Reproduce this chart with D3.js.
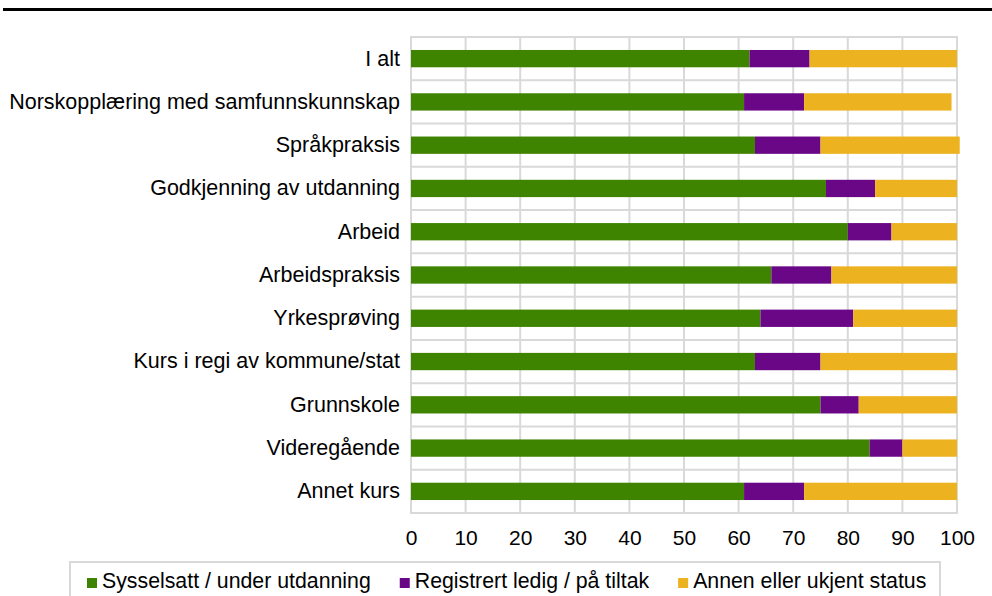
<!DOCTYPE html>
<html>
<head>
<meta charset="utf-8">
<script src="https://cdn.jsdelivr.net/npm/d3@7"></script>
<style>
  body { margin: 0; background: #fff; }
  svg { display: block; font-family: "Liberation Sans", Arial, sans-serif; }
</style>
</head>
<body>
<svg></svg>
<script>
const categories = [
  'I alt',
  'Norskopplæring med samfunnskunnskap',
  'Språkpraksis',
  'Godkjenning av utdanning',
  'Arbeid',
  'Arbeidspraksis',
  'Yrkesprøving',
  'Kurs i regi av kommune/stat',
  'Grunnskole',
  'Videregående',
  'Annet kurs'
];
const sysselsatt = [62, 61, 63, 76, 80, 66, 64, 63, 75, 84, 61];
const ledig      = [11, 11, 12,  9,  8, 11, 17, 12,  7,  6, 11];
const annen      = [27, 27, 25.5, 15, 12, 23, 19, 25, 18, 10, 28];
const seriesNames = ['Sysselsatt / under utdanning', 'Registrert ledig / på tiltak', 'Annen eller ukjent status'];
const seriesColors = ['#3f8400', '#6a0787', '#ecb220'];
const xTicks = [0, 10, 20, 30, 40, 50, 60, 70, 80, 90, 100];

const width = 992, height = 596;
const plot = { left: 411, right: 957, top: 37, bottom: 513 };

const svg = d3.select('svg')
  .attr('width', width)
  .attr('height', height);

// thick rule under the (cut off) heading
svg.append('rect')
  .attr('x', 3).attr('y', 8)
  .attr('width', width - 3).attr('height', 3)
  .attr('fill', '#000');

const rows = categories.map((c, i) => ({
  cat: c,
  vals: [sysselsatt[i], ledig[i], annen[i]]
}));

const xScale = d3.scaleLinear()
  .domain([0, 100])
  .range([plot.left, plot.right]);

const cellScale = d3.scaleBand()
  .domain(categories)
  .range([plot.top, plot.bottom]);

const yScale = d3.scaleBand()
  .domain(categories)
  .range([plot.top, plot.bottom])
  .paddingInner(0.6)
  .paddingOuter(0.3);

const grid = svg.append('g')
  .attr('stroke', '#d9d9d9')
  .attr('stroke-width', 2);

// vertical grid lines
grid.selectAll('line.v')
  .data(xTicks)
  .enter()
  .append('line')
  .attr('x1', d => xScale(d)).attr('x2', d => xScale(d))
  .attr('y1', plot.top).attr('y2', plot.bottom);

// horizontal lines between categories
grid.selectAll('line.h')
  .data(categories.map(c => cellScale(c)).concat([plot.bottom]))
  .enter()
  .append('line')
  .attr('x1', plot.left - 1).attr('x2', plot.right + 1)
  .attr('y1', d => d).attr('y2', d => d);

// stacked bars
const bars = svg.append('g');
rows.forEach(r => {
  let acc = 0;
  r.vals.forEach((v, k) => {
    bars.append('rect')
      .attr('x', xScale(acc))
      .attr('y', yScale(r.cat))
      .attr('width', xScale(acc + v) - xScale(acc))
      .attr('height', yScale.bandwidth())
      .attr('fill', seriesColors[k]);
    acc += v;
  });
});

// category labels
const yAxis = svg.append('g')
  .attr('transform', `translate(${plot.left - 11},0)`)
  .call(d3.axisLeft(yScale).tickSize(0).tickPadding(0));
yAxis.select('.domain').remove();
yAxis.selectAll('text')
  .attr('font-size', 21.5)
  .attr('font-family', '"Liberation Sans", Arial, sans-serif')
  .attr('fill', '#000');

// value axis labels
const xAxis = svg.append('g')
  .attr('transform', `translate(0,${plot.bottom})`)
  .call(d3.axisBottom(xScale).tickValues(xTicks).tickSize(0).tickPadding(17));
xAxis.select('.domain').remove();
xAxis.selectAll('text')
  .attr('font-size', 21)
  .attr('font-family', '"Liberation Sans", Arial, sans-serif')
  .attr('fill', '#000');

// legend
svg.append('rect')
  .attr('x', 70).attr('y', 562)
  .attr('width', 870).attr('height', 60)
  .attr('fill', 'none')
  .attr('stroke', '#d9d9d9')
  .attr('stroke-width', 2);

let lx = 87;
seriesNames.forEach((name, k) => {
  svg.append('rect')
    .attr('x', lx).attr('y', 578)
    .attr('width', 10).attr('height', 10)
    .attr('fill', seriesColors[k]);
  const t = svg.append('text')
    .attr('x', lx + 15).attr('y', 588)
    .attr('font-size', 21.3)
    .attr('fill', '#000')
    .text(name);
  lx += 15 + t.node().getComputedTextLength() + 29;
});
</script>
</body>
</html>
